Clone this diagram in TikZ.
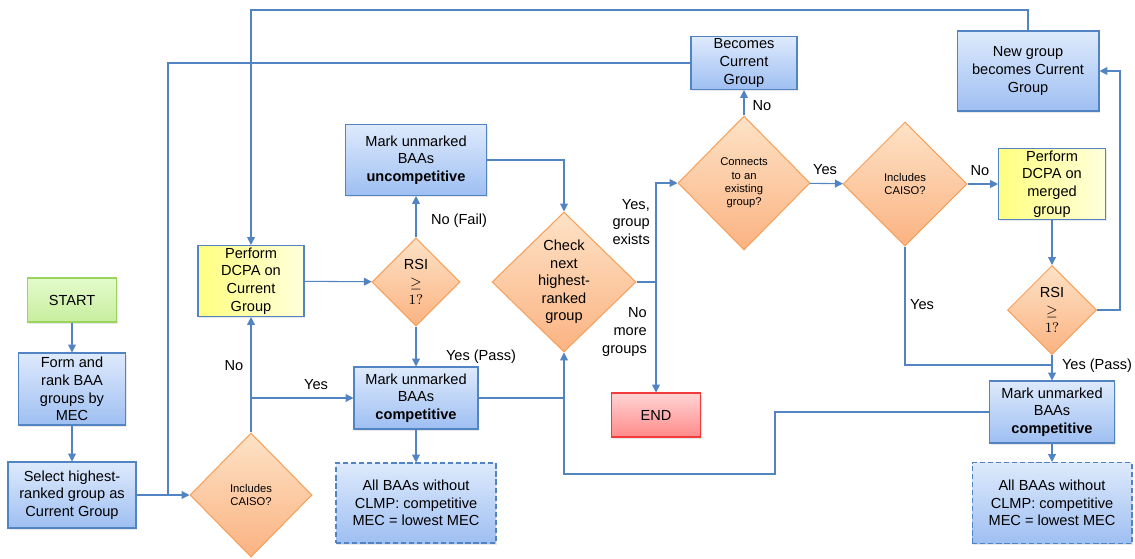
\documentclass[tikz,border=0pt]{standalone}
\usepackage{fontspec}
\setmainfont{Liberation Sans}
\usetikzlibrary{arrows.meta, positioning, calc, shapes.geometric, shadows}
\definecolor{lineblue}{HTML}{5283C2}
\definecolor{boxtop}{HTML}{DEEAFC}
\definecolor{boxbot}{HTML}{9EBFF2}
\definecolor{diatop}{HTML}{FDE2C6}
\definecolor{diabot}{HTML}{FBB382}
\definecolor{diaedge}{HTML}{F7A05A}
\definecolor{yelL}{HTML}{FFFF80}
\definecolor{yelR}{HTML}{FFFFDC}
\definecolor{grntop}{HTML}{E4FBCB}
\definecolor{grnbot}{HTML}{C7EE9E}
\definecolor{grnedge}{HTML}{9AD45E}
\definecolor{redtop}{HTML}{FFD4D4}
\definecolor{redbot}{HTML}{FF8A8A}
\definecolor{rededge}{HTML}{F23C3C}

\begin{document}
\begin{tikzpicture}[x=0.02cm, y=-0.02cm, font=\fontsize{8.3}{10}\selectfont,
  shade/.style = {drop shadow={opacity=0.18, shadow xshift=0.7pt, shadow yshift=-0.9pt}},
  box/.style = {draw=lineblue, semithick, top color=boxtop, bottom color=boxbot, align=center, inner sep=1pt, shade},
  dashbox/.style = {box, dash pattern=on 3pt off 1.6pt},
  yelbox/.style = {draw=lineblue, semithick, left color=yelL, right color=yelR, align=center, inner sep=1pt, shade},
  startbox/.style = {draw=grnedge, semithick, top color=grntop, bottom color=grnbot, align=center, shade},
  endbox/.style = {draw=rededge, semithick, top color=redtop, bottom color=redbot, align=center, shade},
  decision/.style = {diamond, draw=diaedge, semithick, top color=diatop, bottom color=diabot, align=center, inner sep=0pt},
  small/.style = {font=\fontsize{6.4}{7.5}\selectfont},
  line/.style = {draw=lineblue, semithick},
  arrow/.style = {line, -{Triangle[length=4.5pt, width=4.5pt]}}
]
\useasboundingbox (0,0) rectangle (1135,558);

% left column
\node[startbox, minimum width=1.78cm, minimum height=0.88cm] (start) at (72,300) {START};
\node[box, minimum width=2.14cm, minimum height=1.44cm] (form_rank) at (72,389) {Form and\\rank BAA\\groups by\\MEC};
\node[box, minimum width=2.56cm, minimum height=1.32cm] (select_group) at (72,495) {Select highest-\\ranked group as\\Current Group};
\node[decision, small, minimum width=2.44cm, minimum height=2.48cm] (caiso_left) at (251,495) {Includes\\CAISO?};
\node[yelbox, minimum width=2.12cm, minimum height=1.42cm] (dcpa_cur) at (251,281) {Perform\\DCPA on\\Current\\Group};

% first test
\node[decision, minimum width=1.76cm, minimum height=1.76cm] (rsi_left) at (416,282) {RSI\\$\geq$\\$1?$};
\node[box, minimum width=2.82cm, minimum height=1.42cm] (uncomp) at (416,160) {Mark unmarked\\BAAs\\\textbf{uncompetitive}};
\node[box, minimum width=2.48cm, minimum height=1.24cm] (comp_left) at (416,398) {Mark unmarked\\BAAs\\\textbf{competitive}};
\node[dashbox, minimum width=3.2cm, minimum height=1.6cm] (rest_left) at (416,503) {All BAAs without\\CLMP: competitive\\MEC = lowest MEC};

% next group
\node[decision, minimum width=2.88cm, minimum height=2.8cm] (check) at (564,282) {Check\\next\\highest-\\ranked\\group};
\node[endbox, minimum width=1.78cm, minimum height=0.88cm] (end) at (656,415) {END};
\node[decision, small, minimum width=2.64cm, minimum height=2.68cm] (connects) at (744,183) {Connects\\to an\\existing\\group?};
\node[box, minimum width=2.12cm, minimum height=1.06cm] (becomes) at (744,63) {Becomes\\Current\\Group};

% merged group
\node[decision, small, minimum width=2.48cm, minimum height=2.48cm] (caiso_right) at (905,184) {Includes\\CAISO?};
\node[yelbox, minimum width=2.14cm, minimum height=1.42cm] (dcpa_merged) at (1052,184) {Perform\\DCPA on\\merged\\group};
\node[box, minimum width=2.84cm, minimum height=1.6cm] (new_group) at (1028,71) {New group\\becomes Current\\Group};
\node[decision, minimum width=1.78cm, minimum height=1.78cm] (rsi_right) at (1052,310) {RSI\\$\geq$\\$1?$};
\node[box, minimum width=2.5cm, minimum height=1.24cm] (comp_right) at (1052,412) {Mark unmarked\\BAAs\\\textbf{competitive}};
\node[dashbox, minimum width=3.2cm, minimum height=1.62cm] (rest_right) at (1052,503) {All BAAs without\\CLMP: competitive\\MEC = lowest MEC};

% junction points
\coordinate (left_join) at (168,495);
\coordinate (yes_join) at (251,398);
\coordinate (top_rail) at (1028,10);
\coordinate (fork) at (656,282);
\coordinate (bottom_turn) at (775,474);
\coordinate (yes_merge) at (1052,365);
\coordinate (right_rail) at (1120,310);

% connectors
\draw[arrow] (start) -- (form_rank);
\draw[arrow] (form_rank) -- (select_group);
\draw[arrow] (select_group) -- (caiso_left);
\draw[line] (becomes.west) -| (left_join);
\draw[arrow] (caiso_left) -- (dcpa_cur);
\draw[arrow] (yes_join) -- (comp_left);
\draw[arrow] (new_group.north) -- (top_rail) -| (dcpa_cur.north);
\draw[arrow] (dcpa_cur) -- (rsi_left);
\draw[arrow] (rsi_left) -- (uncomp);
\draw[arrow] (rsi_left) -- (comp_left);
\draw[arrow] (uncomp.east) -| (check.north);
\draw[arrow] (comp_left) -- (rest_left);
\draw[line] (comp_left.east) -- (comp_left.east -| check.south);
\draw[arrow] (comp_right.west) -| (bottom_turn) -| (check.south);
\draw[line] (check.east) -- (fork);
\draw[arrow] (fork) |- (connects.west);
\draw[arrow] (fork) -- (end);
\draw[arrow] (connects) -- (becomes);
\draw[arrow] (connects) -- (caiso_right);
\draw[arrow] (caiso_right) -- (dcpa_merged);
\draw[line] (caiso_right.south) |- (yes_merge);
\draw[arrow] (dcpa_merged) -- (rsi_right);
\draw[arrow] (rsi_right.east) -- (right_rail) |- (new_group.east);
\draw[arrow] (rsi_right) -- (comp_right);
\draw[arrow] (comp_right) -- (rest_right);

% connector labels
\node (lbl_no_left) at (234,366) {No};
\node (lbl_yes_left) at (316,385) {Yes};
\node (lbl_fail) at (459,221) {No (Fail)};
\node (lbl_pass_left) at (481,357) {Yes (Pass)};
\node[align=right, anchor=east] (lbl_exists) at (656,222) {Yes,\\group\\exists};
\node[align=right, anchor=east] (lbl_nomore) at (653,332) {No\\more\\groups};
\node (lbl_no_conn) at (762,106) {No};
\node (lbl_yes_conn) at (825,170) {Yes};
\node (lbl_no_right) at (980,171) {No};
\node (lbl_yes_right) at (922,305) {Yes};
\node (lbl_pass_right) at (1097,366) {Yes (Pass)};
\end{tikzpicture}
\end{document}
